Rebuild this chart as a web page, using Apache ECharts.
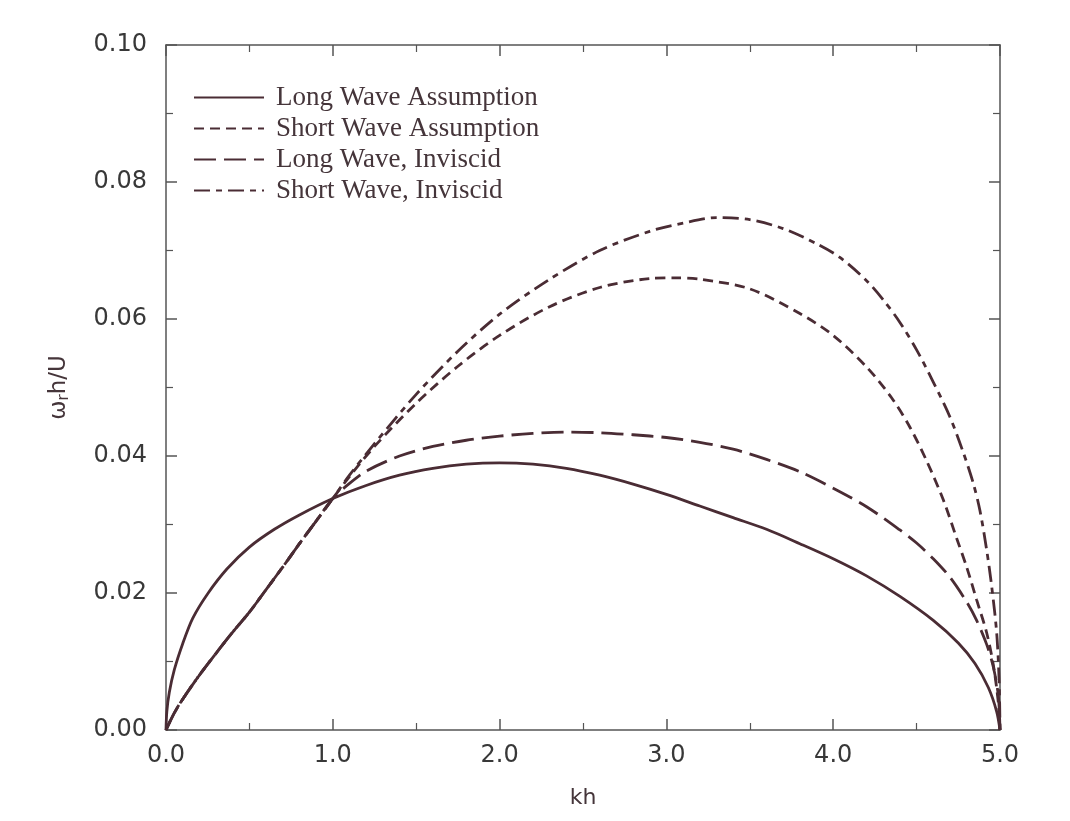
<!DOCTYPE html>
<html>
<head>
<meta charset="utf-8">
<script src="https://cdn.jsdelivr.net/npm/echarts@6/dist/echarts.min.js"></script>
<style>
html,body{margin:0;padding:0;background:#ffffff;}
#chart{width:1070px;height:821px;}
</style>
</head>
<body>
<div id="chart"></div>
<script>
// ---- data ----
const seriesNames = ['Long Wave Assumption', 'Short Wave Assumption', 'Long Wave, Inviscid', 'Short Wave, Inviscid'];

// Long Wave Assumption (solid)
const longAssumKh = [0, 0.005, 0.02, 0.05, 0.1, 0.16, 0.25, 0.365, 0.5, 0.65, 0.8, 1.0, 1.2, 1.4, 1.6, 1.8, 2.0, 2.2, 2.4, 2.6, 2.8, 3.0, 3.2, 3.4, 3.6, 3.8, 4.0, 4.2, 4.4, 4.6, 4.75, 4.85, 4.93, 4.98, 5.0];
const longAssumV  = [0, 0.0027, 0.0055, 0.0088, 0.0126, 0.0163, 0.0199, 0.0235, 0.0267, 0.0293, 0.0314, 0.0338, 0.0357, 0.0372, 0.0382, 0.0388, 0.039, 0.0388, 0.0382, 0.0372, 0.0359, 0.0344, 0.0327, 0.031, 0.0293, 0.0272, 0.025, 0.0225, 0.0195, 0.016, 0.0127, 0.0097, 0.0062, 0.0027, 0];

// Short Wave Assumption (short dashes)
const shortAssumKh = [0, 0.05, 0.1, 0.2, 0.3, 0.4, 0.5, 0.6, 0.7, 0.8, 0.9, 1.0, 1.1, 1.25, 1.5, 1.75, 2.0, 2.3, 2.6, 2.9, 3.05, 3.2, 3.5, 3.8, 4.0, 4.2, 4.35, 4.46, 4.56, 4.66, 4.74, 4.8, 4.86, 4.92, 4.96, 4.99, 5.0];
const shortAssumV  = [0, 0.0025, 0.0045, 0.008, 0.0112, 0.0143, 0.0172, 0.0205, 0.0238, 0.0272, 0.0305, 0.0338, 0.037, 0.0414, 0.0477, 0.0531, 0.0576, 0.0618, 0.0646, 0.0659, 0.066, 0.0658, 0.0644, 0.0608, 0.0576, 0.053, 0.0485, 0.0442, 0.0393, 0.0336, 0.028, 0.0238, 0.019, 0.0142, 0.0095, 0.004, 0];

// Long Wave, Inviscid (long dashes)
const longInvKh = [0, 0.05, 0.1, 0.2, 0.3, 0.4, 0.5, 0.6, 0.7, 0.8, 0.9, 1.0, 1.1, 1.2, 1.4, 1.6, 1.8, 2.0, 2.2, 2.4, 2.6, 2.8, 3.0, 3.2, 3.4, 3.6, 3.8, 4.0, 4.2, 4.4, 4.5, 4.6, 4.7, 4.8, 4.86, 4.92, 4.96, 4.99, 5.0];
const longInvV  = [0, 0.0025, 0.0045, 0.008, 0.0112, 0.0143, 0.0172, 0.0205, 0.0238, 0.0272, 0.0305, 0.0338, 0.036, 0.0378, 0.04, 0.0414, 0.0423, 0.0429, 0.0433, 0.0435, 0.0434, 0.0431, 0.0427, 0.042, 0.041, 0.0395, 0.0377, 0.0353, 0.0326, 0.0292, 0.0273, 0.025, 0.0223, 0.0187, 0.016, 0.0125, 0.0092, 0.005, 0];

// Short Wave, Inviscid (dash-dot)
const shortInvKh = [0, 0.05, 0.1, 0.2, 0.3, 0.4, 0.5, 0.6, 0.7, 0.8, 0.9, 1.0, 1.1, 1.25, 1.5, 1.75, 2.0, 2.3, 2.6, 2.9, 3.1, 3.3, 3.5, 3.7, 3.9, 4.04, 4.2, 4.3, 4.4, 4.5, 4.6, 4.7, 4.78, 4.84, 4.88, 4.92, 4.95, 4.98, 4.995, 5.0];
const shortInvV  = [0, 0.0025, 0.0045, 0.008, 0.0112, 0.0143, 0.0172, 0.0205, 0.0238, 0.0272, 0.0305, 0.0338, 0.0372, 0.0418, 0.049, 0.0553, 0.0607, 0.0658, 0.07, 0.0728, 0.074, 0.0748, 0.0745, 0.0732, 0.071, 0.069, 0.0656, 0.0628, 0.0595, 0.0555, 0.0508, 0.0457, 0.0405, 0.036, 0.032, 0.0263, 0.021, 0.0142, 0.007, 0];

const xTicks = [0, 1, 2, 3, 4, 5];
const yTicks = [0, 0.02, 0.04, 0.06, 0.08, 0.10];

// ---- chart ----
const lineColor = '#4a2c34';
const axisColor = '#555555';
const labelColor = '#383838';

function pairs(xs, ys){ return xs.map((x,i)=>[x, ys[i]]); }

const chart = echarts.init(document.getElementById('chart'), null, {renderer:'canvas'});

const baseAxisLine = {show:true, onZero:false, lineStyle:{color:axisColor, width:1.5}};
const tickIn = {show:true, inside:true, length:11, lineStyle:{color:axisColor, width:1.5}};
const minorIn = {show:true, inside:true, length:7, splitNumber:2, lineStyle:{color:axisColor, width:1.2}};

function mkSeries(name, data, type){
  return {
    name: name, type:'line', data: data, symbol:'none', showSymbol:false,
    smooth: 0.3,
    lineStyle:{color:lineColor, width:2.8, type:type},
    itemStyle:{color:lineColor},
    z: 3
  };
}

chart.setOption({
  backgroundColor:'#ffffff',
  animation:false,
  grid:{left:166, right:70, top:45, bottom:91, containLabel:false},
  legend:{
    orient:'vertical', left:188, top:77,
    itemWidth:70, itemHeight:14, itemGap:0,
    itemStyle:{color:'rgba(0,0,0,0)', borderColor:'rgba(0,0,0,0)', borderWidth:0},
    textStyle:{fontFamily:'Liberation Serif', fontSize:27, color:'#45353a', lineHeight:31, padding:[0,0,0,7]},
    data: seriesNames
  },
  xAxis:[{
    type:'value', min:0, max:5, interval:1, position:'bottom',
    name:'kh', nameLocation:'middle', nameGap:57,
    nameTextStyle:{fontFamily:'DejaVu Sans', fontSize:22, color:'#45353a'},
    axisLine:baseAxisLine, axisTick:tickIn, minorTick:minorIn,
    axisLabel:{margin:14, fontFamily:'DejaVu Sans', fontSize:24, color:labelColor,
      formatter:function(v){ return xTicks.indexOf(v) >= 0 ? v.toFixed(1) : ''; }},
    splitLine:{show:false}
  },{
    type:'value', min:0, max:5, interval:1, position:'top',
    axisLine:baseAxisLine, axisTick:tickIn, minorTick:minorIn,
    axisLabel:{show:false}, splitLine:{show:false}
  }],
  yAxis:[{
    type:'value', min:0, max:0.1, interval:0.02, position:'left',
    name:'{w|ω}{r|r}{w|h/U}', nameLocation:'middle', nameGap:94, nameRotate:90,
    nameTextStyle:{rich:{
      w:{fontFamily:'DejaVu Sans', fontSize:23, color:'#45353a'},
      r:{fontFamily:'DejaVu Sans', fontSize:15, color:'#45353a', verticalAlign:'bottom', padding:[10,0,0,0]}
    }},
    axisLine:baseAxisLine, axisTick:tickIn, minorTick:minorIn,
    axisLabel:{margin:19, fontFamily:'DejaVu Sans', fontSize:24, color:labelColor,
      formatter:function(v){ return v.toFixed(2); }},
    splitLine:{show:false}
  },{
    type:'value', min:0, max:0.1, interval:0.02, position:'right',
    axisLine:baseAxisLine, axisTick:tickIn, minorTick:minorIn,
    axisLabel:{show:false}, splitLine:{show:false}
  }],
  series:[
    mkSeries(seriesNames[0], pairs(longAssumKh, longAssumV), 'solid'),
    mkSeries(seriesNames[1], pairs(shortAssumKh, shortAssumV), [10,6]),
    mkSeries(seriesNames[2], pairs(longInvKh, longInvV), [22,8]),
    mkSeries(seriesNames[3], pairs(shortInvKh, shortInvV), [16,6,6,6])
  ]
});
</script>
</body>
</html>
